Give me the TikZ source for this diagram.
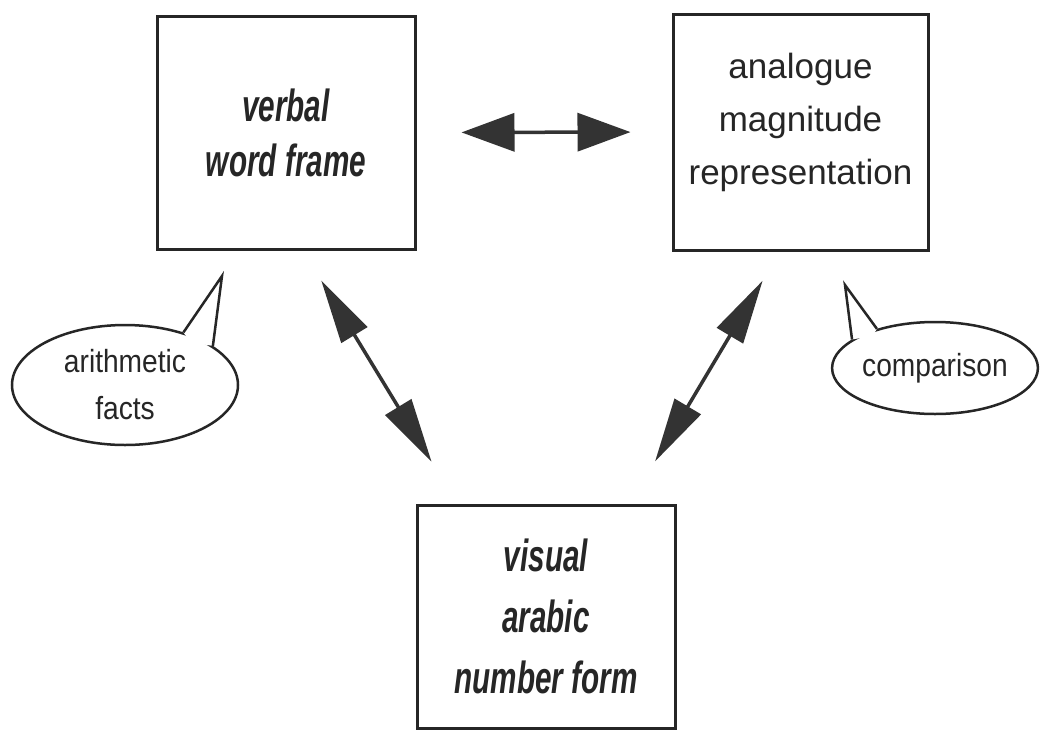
\documentclass[tikz,border=0pt]{standalone}
\usepackage{fontspec}
\setmainfont{Liberation Sans}
\newfontfamily\condfont[FakeStretch=0.66]{Liberation Sans}
\newfontfamily\narrowfont[FakeStretch=0.88]{Liberation Sans}
\usetikzlibrary{arrows.meta,shapes.geometric,calc}
\definecolor{ink}{HTML}{262626}
\definecolor{arrowink}{HTML}{333333}
\begin{document}
\begin{tikzpicture}[x=1pt,y=-1pt,
  box/.style={draw=ink,line width=3pt,inner sep=0pt},
  boldtext/.style={font=\condfont\bfseries\itshape\fontsize{45}{55}\selectfont,align=center,text=ink},
  plaintext/.style={font=\fontsize{35}{53}\selectfont,align=center,text=ink},
  bubble/.style={ellipse,draw=ink,line width=2.5pt,inner sep=0pt,align=center,text=ink,font=\narrowfont\fontsize{32}{47}\selectfont},
  tailside/.style={draw=ink,line width=2.5pt,line join=miter},
  hdbl/.style={draw=arrowink,line width=3.5pt,{Triangle[length=53pt,width=38pt]}-{Triangle[length=53pt,width=38pt]}},
  ddbl/.style={draw=arrowink,line width=3.5pt,{Triangle[length=64pt,width=30pt]}-{Triangle[length=64pt,width=30pt]}}
]
\useasboundingbox (0,0) rectangle (1040,731);
\fill[white] (0,0) rectangle (1040,731);

% boxes
\node[box,boldtext,minimum width=258pt,minimum height=233pt] (verbal) at (286,132.5) {verbal\\word frame};
\node[box,minimum width=255pt,minimum height=236pt] (analogue) at (800.5,132) {};
\node[plaintext] (analoguetext) at (800.5,122) {analogue\\magnitude\\representation};
\node[box,boldtext,minimum width=258pt,minimum height=223pt,font=\condfont\bfseries\itshape\fontsize{45}{61}\selectfont] (visual) at (546,616.5) {visual\\arabic\\number form};

% arrows
\draw[hdbl,shorten <=45pt,shorten >=41pt] (verbal.east) -- (analogue.west);
\draw[ddbl,shorten <=35pt,shorten >=49pt] ([xshift=17pt]verbal.south) -- ([xshift=-89pt]visual.north);
\draw[ddbl,shorten <=34pt,shorten >=49pt] ([xshift=-20.5pt]analogue.south) -- ([xshift=84pt]visual.north);

% bubbles
\node[bubble,minimum width=226pt,minimum height=120pt] (arith) at (125,385) {arithmetic\\facts};
\coordinate (arithtip) at (222,276);
\fill[white] (arith.42) -- (arithtip) -- (arith.24) -- ($(arith.33)!0.1!(arith.center)$) -- cycle;
\draw[tailside] (arith.42) -- (arithtip) -- (arith.24);

\node[bubble,minimum width=204pt,minimum height=92pt] (comp) at (935,368) {comparison};
\coordinate (comptip) at (845,285);
\fill[white] (comp.146) -- (comptip) -- (comp.161) -- ($(comp.153)!0.1!(comp.center)$) -- cycle;
\draw[tailside] (comp.146) -- (comptip) -- (comp.161);
\end{tikzpicture}
\end{document}
